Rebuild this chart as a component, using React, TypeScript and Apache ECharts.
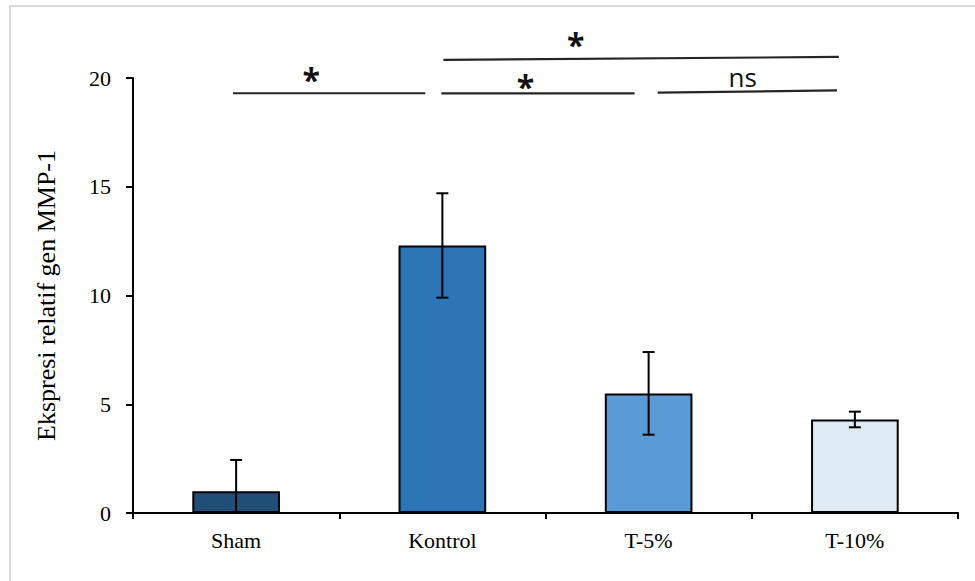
import React, { useEffect, useRef } from "react";
import * as echarts from "echarts";

const categories = ["Sham", "Kontrol", "T-5%", "T-10%"];
const means = [1.0, 12.3, 5.5, 4.3];
const errors = [1.44, 2.4, 1.9, 0.36];
const barColors = ["#1F4E79", "#2E75B6", "#5B9BD5", "#DEEBF7"];
const yTicks = [0, 5, 10, 15, 20];

// significance brackets (x in category-index units, y in data units)
const bracketFrom = [-0.015, 0.995, 2.044, 1.005];
const bracketTo = [0.917, 1.932, 2.913, 2.922];
const bracketYStart = [19.3, 19.29, 19.33, 20.83];
const bracketYEnd = [19.3, 19.29, 19.43, 20.97];
const bracketLabels = ["*", "*", "ns", "*"];
const labelPos = [0.364, 1.403, 2.456, 1.646];
const labelY = [19.91, 19.59, 20.05, 21.52];

export default function App() {
  const ref = useRef<HTMLDivElement>(null);
  useEffect(() => {
    if (!ref.current) return;
    const chart = echarts.init(ref.current, undefined, { renderer: "svg" });
    const serif = "Liberation Serif";
    const errData = categories.map((_, i) => [i, means[i] - errors[i], means[i] + errors[i]]);
    const bracketData = bracketFrom.map((f, i) => [
      f,
      bracketTo[i],
      bracketYStart[i],
      bracketYEnd[i],
      labelPos[i],
      labelY[i],
    ]);
    chart.setOption({
      animation: false,
      backgroundColor: "#ffffff",
      graphic: [
        {
          type: "rect",
          shape: { x: 10, y: 6, width: 1200, height: 1200 },
          style: { fill: "none", stroke: "#d9d9d9", lineWidth: 2 },
          silent: true,
        },
      ],
      grid: { left: 133, right: 17, top: 78, bottom: 68 },
      xAxis: {
        type: "category",
        data: categories,
        axisLine: { lineStyle: { color: "#000", width: 2 } },
        axisTick: { show: true, length: 6, lineStyle: { color: "#000", width: 2 } },
        axisLabel: { color: "#000", fontFamily: serif, fontSize: 22, margin: 16 },
      },
      yAxis: {
        type: "value",
        min: 0,
        max: 20,
        interval: 5,
        name: "Ekspresi relatif gen MMP-1",
        nameLocation: "middle",
        nameGap: 74,
        nameTextStyle: { color: "#000", fontFamily: serif, fontSize: 26 },
        axisLine: { show: true, lineStyle: { color: "#000", width: 2 } },
        axisTick: { show: true, length: 7, lineStyle: { color: "#000", width: 2 } },
        axisLabel: {
          color: "#000",
          fontFamily: serif,
          fontSize: 22,
          margin: 22,
          formatter: (v: number) => (yTicks.includes(v) ? String(v) : ""),
        },
        splitLine: { show: false },
      },
      series: [
        {
          type: "bar",
          barWidth: "42.5%",
          data: means.map((v, i) => ({
            value: v,
            itemStyle: { color: barColors[i], borderColor: "#000", borderWidth: 2 },
          })),
          z: 2,
        },
        {
          type: "custom",
          clip: true,
          z: 3,
          data: errData,
          renderItem: (params: any, api: any) => {
            const x = api.value(0);
            const lo = api.coord([x, api.value(1)]);
            const hi = api.coord([x, api.value(2)]);
            const hw = 6;
            const st = { stroke: "#000", lineWidth: 2 };
            return {
              type: "group",
              children: [
                { type: "line", shape: { x1: hi[0], y1: hi[1], x2: lo[0], y2: lo[1] }, style: st },
                { type: "line", shape: { x1: hi[0] - hw, y1: hi[1], x2: hi[0] + hw, y2: hi[1] }, style: st },
                { type: "line", shape: { x1: lo[0] - hw, y1: lo[1], x2: lo[0] + hw, y2: lo[1] }, style: st },
              ],
            };
          },
        },
        {
          type: "custom",
          clip: false,
          z: 4,
          data: bracketData,
          renderItem: (params: any, api: any) => {
            const toPx = (pos: number, y: number) => {
              const c0 = api.coord([0, y]);
              const c1 = api.coord([1, y]);
              return [c0[0] + pos * (c1[0] - c0[0]), c0[1]];
            };
            const p1 = toPx(api.value(0), api.value(2));
            const p2 = toPx(api.value(1), api.value(3));
            const pl = toPx(api.value(4), api.value(5));
            const lbl = bracketLabels[params.dataIndex];
            return {
              type: "group",
              children: [
                {
                  type: "line",
                  shape: { x1: p1[0], y1: p1[1], x2: p2[0], y2: p2[1] },
                  style: { stroke: "#262626", lineWidth: 2.2 },
                },
                {
                  type: "text",
                  style: {
                    text: lbl,
                    x: pl[0],
                    y: pl[1],
                    fill: "#111",
                    fontFamily: "Open Sans",
                    fontSize: lbl === "ns" ? 26 : 32,
                    fontWeight: lbl === "ns" ? "normal" : "bold",
                    align: "center",
                    verticalAlign: "middle",
                  },
                },
              ],
            };
          },
        },
      ],
    });
    return () => chart.dispose();
  }, []);
  return (
    <div
      ref={ref}
      style={{ position: "absolute", left: 0, top: 0, width: 975, height: 581 }}
    />
  );
}
